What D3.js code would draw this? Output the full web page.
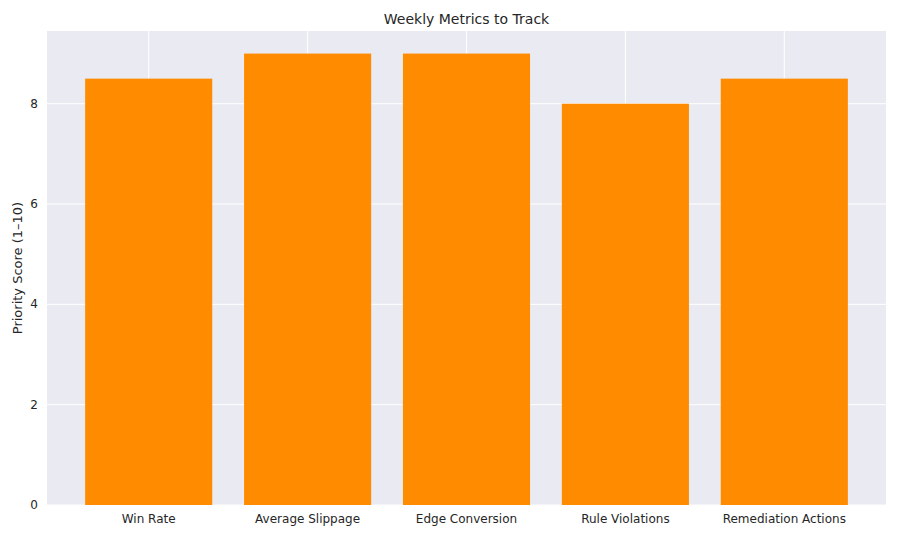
<!DOCTYPE html>
<html><head><meta charset="utf-8">
<script src="https://cdn.jsdelivr.net/npm/d3@7"></script>
<style>body{margin:0;background:#fff}text{font-family:"DejaVu Sans",sans-serif;fill:#262626}</style>
</head><body><svg id="c" width="900" height="540"></svg>
<script>
const categories=["Win Rate","Average Slippage","Edge Conversion","Rule Violations","Remediation Actions"];
const values=[8.5,9,9,8,8.5];
const yTicks=[0,2,4,6,8];
const svg=d3.select("#c");
const L=47,R=886,T=31,B=505;
const x=d3.scaleLinear().domain([-0.64,4.64]).range([L,R]);
const y=d3.scaleLinear().domain([0,9.45]).range([B,T]);
svg.append("rect").attr("x",L).attr("y",T).attr("width",R-L).attr("height",B-T).attr("fill","#EAEAF2");
svg.selectAll(".gy").data(yTicks).enter().append("line").attr("x1",L).attr("x2",R).attr("y1",d=>y(d)).attr("y2",d=>y(d)).attr("stroke","#fff").attr("stroke-width",1);
svg.selectAll(".gx").data(categories).enter().append("line").attr("y1",T).attr("y2",B).attr("x1",(d,i)=>x(i)).attr("x2",(d,i)=>x(i)).attr("stroke","#fff").attr("stroke-width",1);
svg.selectAll(".bar").data(values).enter().append("rect").attr("x",(d,i)=>x(i-0.4)).attr("width",x(0.8)-x(0)).attr("y",d=>y(d)).attr("height",d=>B-y(d)).attr("fill","#FF8C00");
svg.selectAll(".yl").data(yTicks).enter().append("text").attr("x",L-9).attr("y",d=>y(d)+4).attr("text-anchor","end").attr("font-size",12).text(d=>d);
svg.selectAll(".xl").data(categories).enter().append("text").attr("x",(d,i)=>x(i)).attr("y",B+18).attr("text-anchor","middle").attr("font-size",12).text(d=>d);
svg.append("text").attr("x",(L+R)/2).attr("y",24).attr("text-anchor","middle").attr("font-size",14).text("Weekly Metrics to Track");
svg.append("text").attr("transform",`translate(22,${(T+B)/2}) rotate(-90)`).attr("text-anchor","middle").attr("font-size",13).text("Priority Score (1–10)");
</script></body></html>
